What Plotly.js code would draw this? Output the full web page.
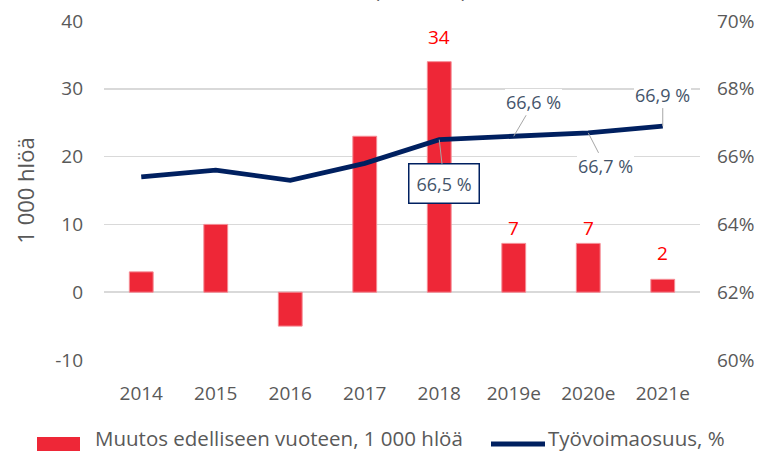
<!DOCTYPE html>
<html>
<head>
<meta charset="utf-8">
<script src="https://cdn.plot.ly/plotly-3.0.1.min.js"></script>
<style>html,body{margin:0;padding:0;background:#fff;}#chart{width:765px;height:454px;}</style>
</head>
<body>
<div id="chart"></div>
<script>
// ---- data ----
const years = ["2014", "2015", "2016", "2017", "2018", "2019e", "2020e", "2021e"];
const changeThousands = [3, 10, -5, 23, 34, 7.2, 7.2, 1.9];
const participationPct = [65.4, 65.6, 65.3, 65.8, 66.5, 66.6, 66.7, 66.9];
const barLabelYears = ["2018", "2019e", "2020e", "2021e"];
const lineLabelYears = ["2018", "2019e", "2020e", "2021e"];
const leftTickVals = [-10, 0, 10, 20, 30, 40];
const leftTickText = ["-10", "0", "10", "20", "30", "40"];
const barName = "Muutos edelliseen vuoteen, 1 000 hlöä";
const lineName = "Työvoimaosuus, %";
const yTitle = "1 000 hlöä";
const topTitle = "vuoteen (1 000 hlö)";

// ---- styling ----
const FONT = "Open Sans, sans-serif";
const GRAY = "#595959";
const RED = "#EE2737";
const NAVY = "#002060";
const LBL = "#44546A";
const M = {l: 104, r: 65, t: 21, b: 94};
const W = 765, H = 454;
const PW = W - M.l - M.r, PH = H - M.t - M.b;
const px = x => (x - M.l) / PW;          // pixel -> paper x
const py = y => (H - M.b - y) / PH;      // pixel -> paper y

const barTrace = {
  type: "bar", x: years, y: changeThousands, name: barName,
  marker: {color: RED, line: {color: "#F58C95", width: 1}},
  width: 0.32, yaxis: "y", hoverinfo: "skip", showlegend: false
};
const lineTrace = {
  type: "scatter", mode: "lines", x: years, y: participationPct, name: lineName,
  line: {color: NAVY, width: 4.8}, yaxis: "y2", hoverinfo: "skip", showlegend: false
};

const annotations = [];
// bar value labels
const barShift = {"2018": 10, "2019e": 0, "2020e": 0, "2021e": 11};
barLabelYears.forEach(yr => {
  const i = years.indexOf(yr);
  annotations.push({
    x: i, y: changeThousands[i], xref: "x", yref: "y", yanchor: "bottom",
    yshift: barShift[yr], showarrow: false,
    text: String(Math.round(changeThousands[i])),
    font: {family: FONT, size: 19, color: "#FF0000"}
  });
});
// line value labels with leader lines
const lineOff = {
  "2018": {ax: 5, ay: 44, box: true},
  "2019e": {ax: 20, ay: -34},
  "2020e": {ax: 17, ay: 33},
  "2021e": {ax: 0, ay: -31}
};
lineLabelYears.forEach(yr => {
  const i = years.indexOf(yr);
  const o = lineOff[yr];
  annotations.push({
    x: i, y: participationPct[i], xref: "x", yref: "y2",
    showarrow: true, arrowhead: 0, arrowwidth: 1, arrowcolor: "#A6A6A6",
    ax: o.ax, ay: o.ay, standoff: 0,
    text: participationPct[i].toFixed(1).replace(".", ",") + " %",
    font: {family: FONT, size: 18, color: LBL},
    bgcolor: "#ffffff",
    bordercolor: o.box ? NAVY : "rgba(0,0,0,0)",
    borderwidth: o.box ? 1.5 : 0,
    borderpad: o.box ? 7 : 1
  });
});
// clipped chart title (cut by the top edge as in the original)
annotations.push({
  xref: "paper", yref: "paper", x: px(382), y: py(6),
  xanchor: "center", yanchor: "bottom", showarrow: false,
  text: topTitle, font: {family: FONT, size: 19, color: GRAY}
});
// legend texts
annotations.push({
  xref: "paper", yref: "paper", x: px(93), y: py(454), xanchor: "left", yanchor: "bottom",
  showarrow: false, text: barName, font: {family: FONT, size: 20.5, color: GRAY}
});
annotations.push({
  xref: "paper", yref: "paper", x: px(546), y: py(454), xanchor: "left", yanchor: "bottom",
  showarrow: false, text: lineName, font: {family: FONT, size: 20.5, color: GRAY}
});
// legend symbols
const shapes = [
  {type: "rect", xref: "paper", yref: "paper", x0: px(37), x1: px(80), y0: py(451), y1: py(437),
   fillcolor: RED, line: {width: 0}},
  {type: "line", xref: "paper", yref: "paper", x0: px(491), x1: px(545), y0: py(444), y1: py(444),
   line: {color: NAVY, width: 4.8}}
];

const layout = {
  width: W, height: H,
  margin: {l: M.l, r: M.r, t: M.t, b: M.b, pad: 0},
  paper_bgcolor: "#ffffff", plot_bgcolor: "#ffffff",
  font: {family: FONT, size: 18, color: GRAY},
  showlegend: false,
  xaxis: {
    type: "category", autotypenumbers: "strict", categoryorder: "array", categoryarray: years,
    range: [-0.5, years.length - 0.5], automargin: false,
    showgrid: false, zeroline: false, showline: false,
    ticks: "", tickfont: {family: FONT, size: 19, color: GRAY}, ticklabelstandoff: 20
  },
  yaxis: {
    range: [-10, 40], tickvals: leftTickVals, ticktext: leftTickText,
    showgrid: true, gridcolor: "#D9D9D9", gridwidth: 1.5,
    zeroline: true, zerolinecolor: "#D9D9D9", zerolinewidth: 1.5,
    ticks: "", tickfont: {family: FONT, size: 19, color: GRAY}, ticklabelstandoff: 20,
    title: {text: yTitle, font: {family: FONT, size: 22, color: GRAY}, standoff: 14}
  },
  yaxis2: {
    overlaying: "y", side: "right", range: [60, 70], dtick: 2, tick0: 60,
    ticksuffix: "%", showgrid: false, zeroline: false, automargin: false,
    ticks: "", tickfont: {family: FONT, size: 19, color: GRAY}, ticklabelstandoff: 16
  },
  annotations: annotations,
  shapes: shapes
};

Plotly.newPlot("chart", [barTrace, lineTrace], layout, {displayModeBar: false, staticPlot: true});
</script>
</body>
</html>
